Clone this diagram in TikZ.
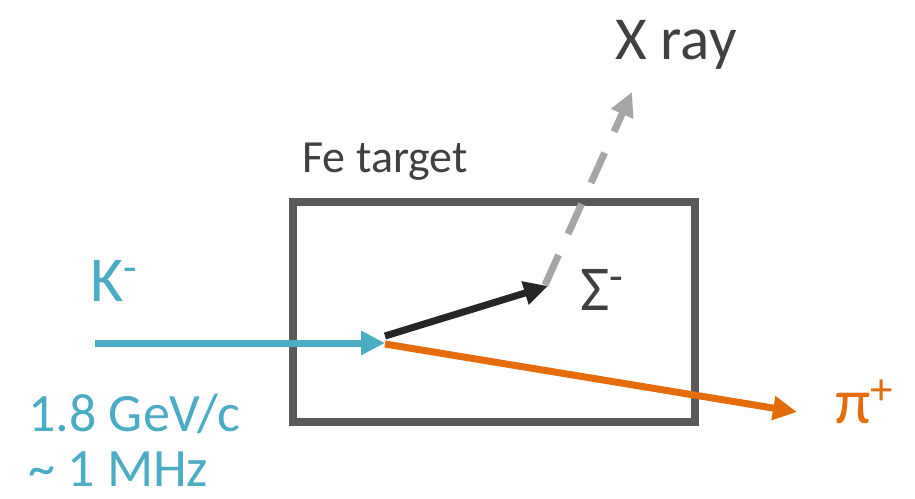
\documentclass[tikz,border=0pt]{standalone}
\usepackage{fontspec}
\setmainfont{Carlito}
\usetikzlibrary{arrows.meta}
\definecolor{kaon}{HTML}{4BACC6}
\definecolor{pion}{HTML}{E46C0A}
\definecolor{sigma}{HTML}{262626}
\definecolor{xray}{HTML}{A6A6A6}
\definecolor{frame}{HTML}{595959}
\definecolor{textgray}{HTML}{404040}
\tikzset{
  track/.style = {line width=3.5pt,
    -{Triangle[length=12pt, width=11.5pt]}},% trace de particule
  kaon_track/.style = {track, kaon},
  pion_track/.style = {track, pion},
  sigma_track/.style = {track, sigma},
  xray_track/.style = {track, xray, dash pattern=on 16.5pt off 11.5pt},
  target_box/.style = {draw=frame, line width=4pt},
  particle/.style = {anchor=base west, inner sep=0pt, font=\fontsize{32}{36}\selectfont}
}
\begin{document}
\begin{tikzpicture}[x=0.5pt, y=-0.5pt]
    \useasboundingbox (0,0) rectangle (915,498);
    \draw [target_box] (293,202) rectangle (695,422);
    \node [anchor=base west, inner sep=0pt, textgray, font=\fontsize{23}{27}\selectfont] (fe) at (302,172) {Fe target};
    \node [anchor=base west, inner sep=0pt, textgray, font=\fontsize{30.5}{34}\selectfont] (xr) at (615,59) {X ray};
    % traces
    \coordinate (kin) at (95,343);
    \coordinate (vtx) at (385,343);
    \coordinate (sig_start) at (385,336);
    \coordinate (sig_end) at (548,286);
    \coordinate (pi_start) at (385,344);
    \coordinate (pi_end) at (797,412);
    \coordinate (x_start) at (545,285);
    \coordinate (x_end) at (632,92);
    \draw [kaon_track] (kin) -- (vtx);
    \draw [pion_track] (pi_start) -- (pi_end);
    \draw [xray_track] (x_start) -- (x_end);
    \draw [sigma_track] (sig_start) -- (sig_end);
    % particules
    \node [particle, kaon] (k) at (90,301) {K\textsuperscript{-}};
    \node [particle, textgray] (s) at (580,310) {Σ\textsuperscript{-}};
    \node [particle, pion] (p) at (835,423) {π\textsuperscript{+}};
    \node [anchor=base west, inner sep=0pt, kaon, font=\fontsize{27}{31}\selectfont] (beam) at (28,431) {1.8 GeV/c};
    \node [anchor=base west, inner sep=0pt, kaon, font=\fontsize{27}{31}\selectfont] (rate) at (28,486) {\char`\~{} 1 MHz};
\end{tikzpicture}
\end{document}
